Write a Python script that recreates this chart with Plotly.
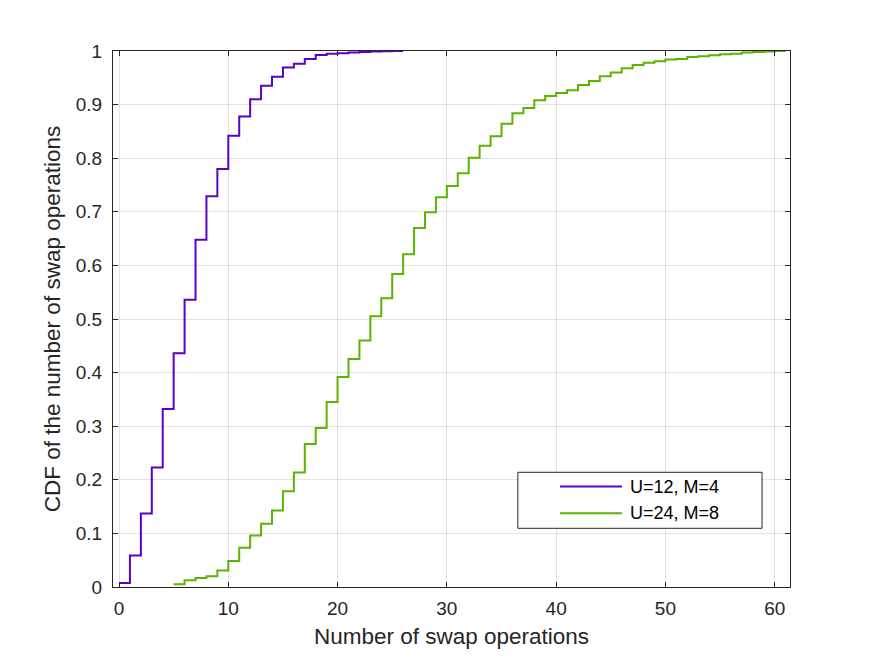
import plotly.graph_objects as go

# Data
x_u12 = list(range(0, 27))
cdf_u12 = [0.0075, 0.059, 0.137, 0.223, 0.332, 0.436, 0.536, 0.648, 0.729, 0.780,
           0.842, 0.878, 0.910, 0.935, 0.952, 0.969, 0.976, 0.985, 0.9925, 0.995,
           0.996, 0.997, 0.998, 0.999, 0.9995, 1.0, 1.0]

x_u24 = list(range(5, 62))
cdf_u24 = [0.005, 0.0125, 0.017, 0.02, 0.031, 0.0485, 0.073, 0.096, 0.118, 0.1425,
           0.1785, 0.2134, 0.2668, 0.2966, 0.345, 0.392, 0.4254, 0.460, 0.505, 0.5386,
           0.584, 0.621, 0.670, 0.699, 0.727, 0.748, 0.772, 0.801, 0.823, 0.841,
           0.8645, 0.884, 0.8937, 0.908, 0.916, 0.9216, 0.927, 0.9366, 0.944, 0.9528,
           0.960, 0.968, 0.974, 0.978, 0.981, 0.984, 0.985, 0.989, 0.990, 0.992,
           0.994, 0.995, 0.997, 0.998, 0.999, 1.0, 1.0]

names = ["U=12, M=4", "U=24, M=8"]
colors = ["#5a00c8", "#5ab400"]

x_ticks = [0, 10, 20, 30, 40, 50, 60]
y_ticks = [0, 0.1, 0.2, 0.3, 0.4, 0.5, 0.6, 0.7, 0.8, 0.9, 1]
y_tick_labels = ["0", "0.1", "0.2", "0.3", "0.4", "0.5", "0.6", "0.7", "0.8", "0.9", "1"]

FONT = "Liberation Sans, Arial, sans-serif"
AX = "#262626"
GRID = "rgba(38,38,38,0.13)"

fig = go.Figure()
for xs, ys, nm, c in [(x_u12, cdf_u12, names[0], colors[0]), (x_u24, cdf_u24, names[1], colors[1])]:
    fig.add_trace(go.Scatter(x=xs, y=ys, mode="lines", name=nm,
                             line=dict(color=c, width=2, shape="hv")))

axis_common = dict(showline=True, linecolor=AX, linewidth=1, mirror="ticks",
                   ticks="inside", ticklen=5, tickcolor=AX, showgrid=True,
                   gridcolor=GRID, gridwidth=1, zeroline=False,
                   tickfont=dict(family=FONT, size=19, color=AX))

# Legend drawn in MATLAB style (box, line samples, labels) in paper coordinates
leg_box = dict(x0=0.598, x1=0.9587, y0=0.1095, y1=0.214)
leg_rows_y = [0.1875, 0.1375]
leg_line_x = (0.6603, 0.7518)
leg_text_x = 0.7607

shapes = [dict(type="rect", xref="paper", yref="paper", layer="above",
               line=dict(color=AX, width=1), fillcolor="white", **leg_box)]
annotations = []
for nm, c, yy in zip(names, colors, leg_rows_y):
    shapes.append(dict(type="line", xref="paper", yref="paper", layer="above",
                       x0=leg_line_x[0], x1=leg_line_x[1], y0=yy, y1=yy,
                       line=dict(color=c, width=2)))
    annotations.append(dict(xref="paper", yref="paper", x=leg_text_x, y=yy,
                            xanchor="left", yanchor="middle", showarrow=False,
                            text=nm, font=dict(family=FONT, size=18, color="black")))

fig.update_layout(
    width=875, height=657,
    margin=dict(l=113, r=85, t=51, b=70),
    paper_bgcolor="white", plot_bgcolor="white",
    font=dict(family=FONT, color=AX),
    xaxis=dict(range=[-0.55, 61.4], tickvals=x_ticks, ticklabelstandoff=4,
               title=dict(text="Number of swap operations", font=dict(family=FONT, size=22.5, color=AX), standoff=10),
               **axis_common),
    yaxis=dict(range=[0, 1], tickvals=y_ticks, ticktext=y_tick_labels, ticklabelstandoff=6,
               title=dict(text="CDF of the number of swap operations", font=dict(family=FONT, size=22.5, color=AX), standoff=8),
               **axis_common),
    shapes=shapes,
    annotations=annotations,
    showlegend=False,
)

fig.write_html("out.html")
